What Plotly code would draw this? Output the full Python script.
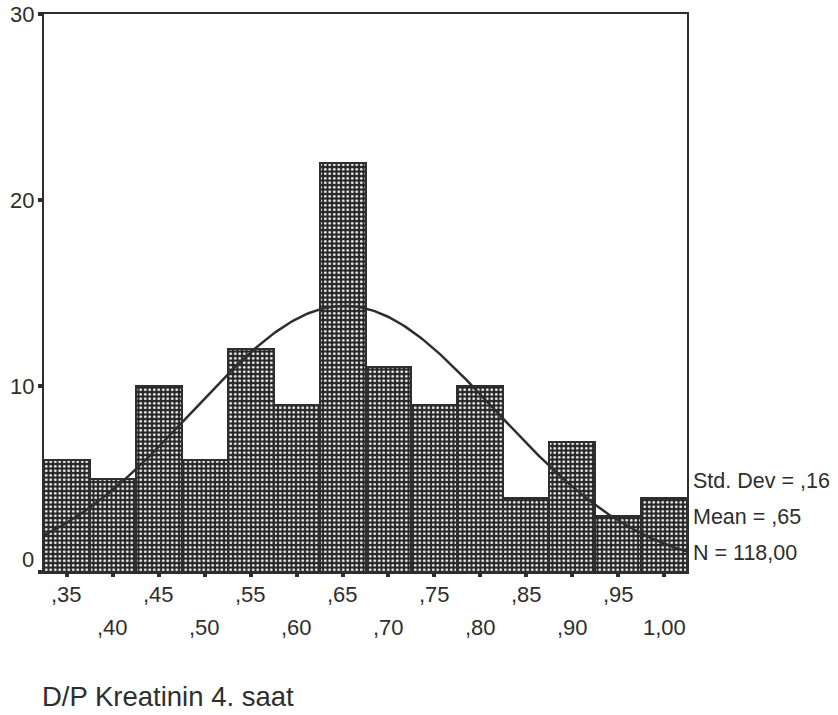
import numpy as np
import plotly.graph_objects as go

# Histogram of D/P creatinine ratio at hour 4
bin_centers = [0.35, 0.40, 0.45, 0.50, 0.55, 0.60, 0.65, 0.70, 0.75, 0.80, 0.85, 0.90, 0.95, 1.00]
counts = [6, 5, 10, 6, 12, 9, 22, 11, 9, 10, 4, 7, 3, 4]
tick_labels = [",35", ",40", ",45", ",50", ",55", ",60", ",65", ",70", ",75", ",80", ",85", ",90", ",95", "1,00"]
y_ticks = [0, 10, 20, 30]

bin_width = 0.05
mean_value = 0.652
std_dev = 0.1645
n_total = sum(counts)


def comma_fmt(v):
    s = f"{v:.2f}".replace(".", ",")
    return s[1:] if s.startswith("0") else s


ink = "#2e2e2e"
font_family = "Arial, Liberation Sans, sans-serif"

fig = go.Figure()

fig.add_trace(go.Bar(
    x=bin_centers,
    y=counts,
    width=bin_width,
    marker=dict(
        color="#2a2a2a",
        line=dict(color=ink, width=2),
        pattern=dict(shape=".", size=4.5, solidity=0.3,
                     fgcolor="#f2f2f2", bgcolor="#262626", fillmode="replace"),
    ),
    hoverinfo="skip",
    showlegend=False,
))

# Normal curve scaled to counts per bin
x_lo = bin_centers[0] - bin_width / 2
x_hi = bin_centers[-1] + bin_width / 2
xs = np.linspace(x_lo, x_hi, 300)
ys = n_total * bin_width / (std_dev * np.sqrt(2 * np.pi)) * np.exp(-0.5 * ((xs - mean_value) / std_dev) ** 2)
fig.add_trace(go.Scatter(x=xs, y=ys, mode="lines", line=dict(color=ink, width=2.5),
                         hoverinfo="skip", showlegend=False))

annotations = []
# Two staggered rows of x tick labels
for i, (c, lab) in enumerate(zip(bin_centers, tick_labels)):
    annotations.append(dict(
        x=c, y=0, xref="x", yref="paper", text=lab, showarrow=False,
        xanchor="center", yanchor="middle", yshift=-22 if i % 2 == 0 else -55,
        font=dict(family=font_family, size=22, color=ink),
    ))

# y tick labels (the zero label sits a little above the baseline)
for v in y_ticks:
    annotations.append(dict(
        x=0, y=v, xref="paper", yref="y", text=str(v), showarrow=False,
        xanchor="right", yanchor="middle", xshift=-8, yshift=13 if v == 0 else 0,
        font=dict(family=font_family, size=22, color=ink),
    ))

# Summary statistics next to the plot
stats = [f"Std. Dev = {comma_fmt(std_dev)}", f"Mean = {comma_fmt(mean_value)}", f"N = {n_total:.2f}".replace(".", ",")]
for k, s in enumerate(stats):
    annotations.append(dict(
        x=1, y=0, xref="paper", yref="paper", text=s, showarrow=False,
        xanchor="left", yanchor="middle", xshift=4, yshift=91 - 36 * k,
        font=dict(family=font_family, size=21.5, color=ink),
    ))

annotations.append(dict(
    x=0, y=0, xref="paper", yref="paper", text="D/P Kreatinin 4. saat", showarrow=False,
    xanchor="left", yanchor="middle", xshift=-4, yshift=-124,
    font=dict(family=font_family, size=27.5, color=ink),
))

fig.update_layout(
    width=838, height=715,
    margin=dict(l=44, r=151, t=14, b=143),
    paper_bgcolor="white", plot_bgcolor="white",
    bargap=0,
    annotations=annotations,
    font=dict(family=font_family, color=ink),
)
fig.update_xaxes(
    range=[x_lo, x_hi], tickvals=bin_centers, ticktext=[""] * len(bin_centers),
    ticks="outside", ticklen=3, tickwidth=4, tickcolor=ink,
    showline=True, linecolor=ink, linewidth=2, mirror=True,
    showgrid=False, zeroline=False,
)
fig.update_yaxes(
    range=[0, 30], tickvals=y_ticks, ticktext=[""] * len(y_ticks),
    ticks="outside", ticklen=4, tickwidth=4, tickcolor=ink,
    showline=True, linecolor=ink, linewidth=2, mirror=True,
    showgrid=False, zeroline=False,
)

fig.write_html("out.html")
